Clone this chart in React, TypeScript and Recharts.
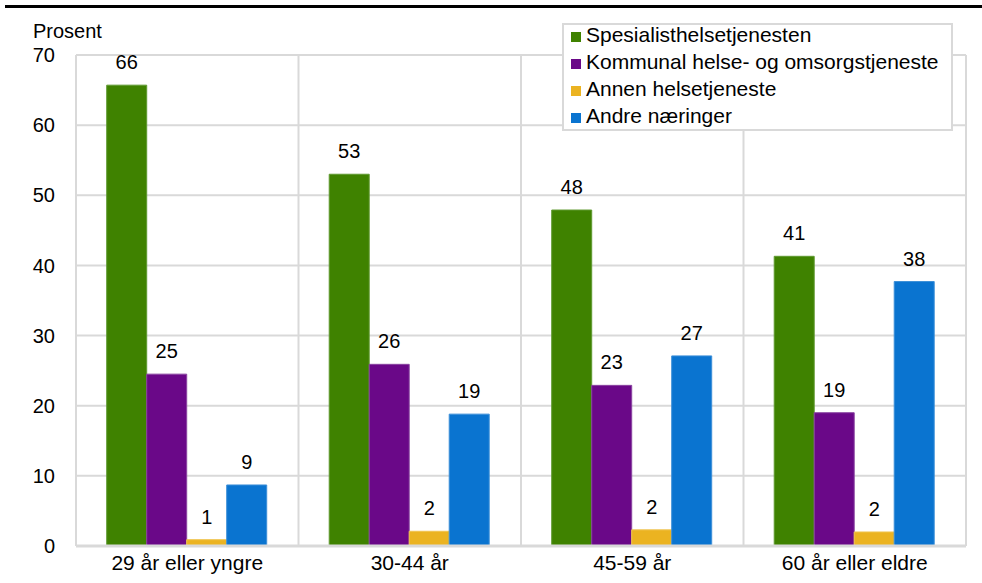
import React from "react";
import {
  BarChart,
  Bar,
  XAxis,
  YAxis,
  CartesianGrid,
  Legend,
  LabelList,
} from "recharts";

// Age groups on the x axis
const categories = ["29 år eller yngre", "30-44 år", "45-59 år", "60 år eller eldre"];

// Share in percent
const spesialist = [65.7, 53.0, 47.9, 41.3];
const kommunal = [24.5, 25.9, 22.9, 19.0];
const annen = [0.9, 2.1, 2.3, 2.0];
const andre = [8.7, 18.8, 27.1, 37.7];

const yTicks = [0, 10, 20, 30, 40, 50, 60, 70];

const seriesNames = [
  "Spesialisthelsetjenesten",
  "Kommunal helse- og omsorgstjeneste",
  "Annen helsetjeneste",
  "Andre næringer",
];

const FONT = '"Liberation Sans", Arial, sans-serif';
const GRID = "#d9d9d9";

const data = categories.map((name, i) => ({
  name,
  spesialist: spesialist[i],
  kommunal: kommunal[i],
  annen: annen[i],
  andre: andre[i],
}));

const series = [
  { key: "spesialist", fill: "#3f8200", stroke: "#5f9a30" },
  { key: "kommunal", fill: "#6a0888", stroke: "#8a44a0" },
  { key: "annen", fill: "#ebb321", stroke: "#f0c450" },
  { key: "andre", fill: "#0a74d0", stroke: "#3c8fd8" },
];

// keep legend rows in series order (recharts sorts them by name otherwise)
const LegendBox = ({ payload }: any) => {
  const items = [...(payload || [])].sort(
    (a: any, b: any) => seriesNames.indexOf(a.value) - seriesNames.indexOf(b.value)
  );
  return (
    <div
      style={{
        boxSizing: "border-box",
        width: 391,
        height: 108,
        border: `2px solid ${GRID}`,
        background: "#fff",
        paddingLeft: 7,
        fontFamily: FONT,
        fontSize: 21,
        color: "#000",
      }}
    >
      <div style={{ marginTop: -4 }}>
        {items.map((entry: any, i: number) => (
          <div key={`leg-${i}`} style={{ height: 27, lineHeight: "27px", whiteSpace: "nowrap" }}>
            <span
              style={{
                display: "inline-block",
                width: 10,
                height: 10,
                background: entry.color,
                marginRight: 5,
              }}
            />
            {entry.value}
          </div>
        ))}
      </div>
    </div>
  );
};

const App: React.FC = () => {
  return (
    <div
      style={{
        position: "absolute",
        left: 0,
        top: 0,
        width: 982,
        height: 583,
        background: "#fff",
        fontFamily: FONT,
      }}
    >
      <div
        style={{
          position: "absolute",
          left: 5,
          top: 5,
          width: 977,
          height: 3,
          background: "#000",
        }}
      />
      <div
        style={{
          position: "absolute",
          left: 33,
          top: 21,
          fontSize: 20,
          lineHeight: "20px",
          color: "#000",
        }}
      >
        Prosent
      </div>
      <BarChart
        width={982}
        height={583}
        data={data}
        margin={{ top: 55, right: 16, left: 16, bottom: 7 }}
        barCategoryGap="13.8%"
        barGap={0}
      >
        <CartesianGrid
          stroke={GRID}
          strokeWidth={2}
          verticalCoordinatesGenerator={({ offset }: any) =>
            [0, 1, 2, 3, 4].map((i) => offset.left + (i * offset.width) / categories.length)
          }
        />
        <XAxis
          dataKey="name"
          height={30}
          tickSize={0}
          tickMargin={9}
          axisLine={{ stroke: GRID, strokeWidth: 3 }}
          tick={{ fill: "#000", fontSize: 21, fontFamily: FONT }}
        />
        <YAxis
          width={60}
          domain={[0, 70]}
          ticks={yTicks}
          tickSize={0}
          tickMargin={21}
          axisLine={false}
          tickLine={false}
          tick={{ fill: "#000", fontSize: 20, fontFamily: FONT }}
        />
        <Legend
          layout="vertical"
          align="center"
          verticalAlign="middle"
          content={<LegendBox />}
          wrapperStyle={{ left: 562, top: 23, width: 391, height: 108 }}
        />
        {series.map((s, i) => (
          <Bar
            key={s.key}
            dataKey={s.key}
            name={seriesNames[i]}
            fill={s.fill}
            stroke={s.stroke}
            strokeWidth={1}
            isAnimationActive={false}
          >
            <LabelList
              dataKey={s.key}
              position="top"
              offset={16}
              formatter={(v: any) => Math.round(Number(v))}
              style={{ fill: "#000", fontSize: 20, fontFamily: FONT }}
            />
          </Bar>
        ))}
      </BarChart>
    </div>
  );
};

export default App;
